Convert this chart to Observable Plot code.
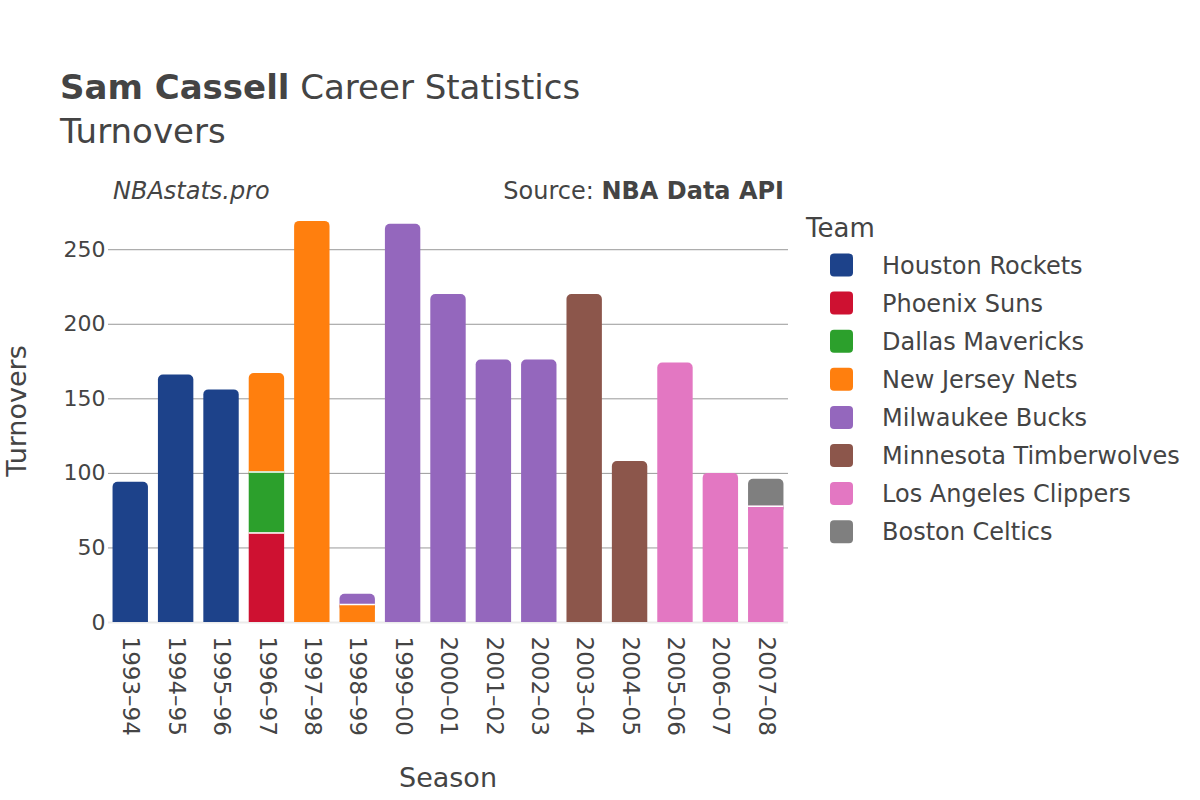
<!DOCTYPE html>
<html><head><meta charset="utf-8">
<script src="https://cdn.jsdelivr.net/npm/d3@7"></script>
<script src="https://cdn.jsdelivr.net/npm/@observablehq/plot@0.6"></script>
<style>
body{margin:0;background:#fff;font-family:"DejaVu Sans",sans-serif;color:#444}
#wrap{position:relative;width:1200px;height:800px;overflow:hidden;background:#fff}
#wrap svg{position:absolute;left:0;top:0}
</style></head><body><div id="wrap"></div>
<script>
// ---- data ----
const seasons = ["1993–94","1994–95","1995–96","1996–97","1997–98","1998–99","1999–00","2000–01","2001–02","2002–03","2003–04","2004–05","2005–06","2006–07","2007–08"];
const teams = ["Houston Rockets","Phoenix Suns","Dallas Mavericks","New Jersey Nets","Milwaukee Bucks","Minnesota Timberwolves","Los Angeles Clippers","Boston Celtics"];
const teamColors = ["#1d428a","#ce1131","#2ca02c","#ff7f0e","#9467bd","#8c564b","#e377c2","#7f7f7f"];
const rowSeason = ["1993–94","1994–95","1995–96","1996–97","1996–97","1996–97","1997–98","1998–99","1998–99","1999–00","2000–01","2001–02","2002–03","2003–04","2004–05","2005–06","2006–07","2007–08","2007–08"];
const rowTeam = ["Houston Rockets","Houston Rockets","Houston Rockets","Phoenix Suns","Dallas Mavericks","New Jersey Nets","New Jersey Nets","New Jersey Nets","Milwaukee Bucks","Milwaukee Bucks","Milwaukee Bucks","Milwaukee Bucks","Milwaukee Bucks","Minnesota Timberwolves","Minnesota Timberwolves","Los Angeles Clippers","Los Angeles Clippers","Los Angeles Clippers","Boston Celtics"];
const rowTurnovers = [94,166,156,60,41,66,269,12,7,267,220,176,176,220,108,174,100,78,18];
const yTicks = [0,50,100,150,200,250];

// ---- build table (stack in team order) ----
const rows = rowSeason.map((s,i)=>({season:s, team:rowTeam[i], value:rowTurnovers[i]}));
rows.sort((a,b)=> seasons.indexOf(a.season)-seasons.indexOf(b.season) || teams.indexOf(a.team)-teams.indexOf(b.team));
const acc = new Map();
for (const r of rows){ const b = acc.get(r.season)||0; r.y1=b; r.y2=b+r.value; acc.set(r.season,r.y2); }
for (const s of seasons){ const seg = rows.filter(r=>r.season===s); if(seg.length) seg[seg.length-1].top=true; }
// top segment is drawn rounded and extended slightly downward (hidden under the segment below / clipped at 0)
const upper = rows.filter(r=>r.top).map(r=>({...r, y1ext: r.y1 - 5}));
const lower = rows.filter(r=>!r.top);
const joins = rows.filter(r=>r.y1>0);

const W=1200,H=800, mL=108, mR=412, mT=200, mB=178;
const chart = Plot.plot({
  width: W, height: H,
  marginLeft: mL, marginRight: mR, marginTop: mT, marginBottom: mB,
  style: {fontFamily: "DejaVu Sans, sans-serif", fontSize: "22px", color: "#444", background: "transparent"},
  x: {domain: seasons, paddingInner: 0.22, paddingOuter: 0.1, round: false},
  y: {domain: [0, 283]},
  color: {domain: teams, range: teamColors},
  marks: [
    Plot.gridY(yTicks, {stroke: "#999", strokeOpacity: 1, strokeWidth: 1}),
    Plot.ruleY([0], {stroke: "#ebebeb", strokeWidth: 2}),
    Plot.barY(upper, {x: "season", y1: "y1ext", y2: "y2", fill: "team", rx: 5, ry: 5, clip: true}),
    Plot.barY(lower, {x: "season", y1: "y1", y2: "y2", fill: "team"}),
    Plot.tickY(joins, {x: "season", y: "y1", stroke: "white", strokeWidth: 1.5}),
    Plot.axisY({ticks: yTicks, tickSize: 0, tickPadding: 3, fontSize: 22, label: null}),
    Plot.axisX({tickRotate: 90, tickSize: 0, tickPadding: 14, fontSize: 23, label: null})
  ]
});
const wrap = document.getElementById("wrap");
wrap.appendChild(chart);

// ---- overlay text + legend ----
const ov = d3.select(wrap).append("svg").attr("width",W).attr("height",H)
  .style("font-family","DejaVu Sans, sans-serif").attr("fill","#444");
const t1 = ov.append("text").attr("x",60).attr("y",99).attr("font-size",34);
t1.append("tspan").attr("font-weight","bold").text("Sam Cassell");
t1.append("tspan").text(" Career Statistics");
ov.append("text").attr("x",60).attr("y",143).attr("font-size",34).text("Turnovers");
ov.append("text").attr("x",113).attr("y",199).attr("font-size",24).attr("font-style","italic").text("NBAstats.pro");
const src = ov.append("text").attr("x",784).attr("y",199).attr("font-size",24).attr("text-anchor","end");
src.append("tspan").text("Source: ");
src.append("tspan").attr("font-weight","bold").text("NBA Data API");
ov.append("text").attr("transform","translate(26,411) rotate(-90)").attr("text-anchor","middle").attr("font-size",27).text("Turnovers");
ov.append("text").attr("x",448).attr("y",787).attr("text-anchor","middle").attr("font-size",27).text("Season");
ov.append("text").attr("x",806).attr("y",237).attr("font-size",26).text("Team");
teams.forEach((t,i)=>{
  const cy = 265 + i*38.1;
  ov.append("rect").attr("x",830).attr("y",cy-11.5).attr("width",23).attr("height",23).attr("rx",4).attr("fill",teamColors[i]);
  ov.append("text").attr("x",882).attr("y",cy+8.5).attr("font-size",24).text(t);
});
</script></body></html>
